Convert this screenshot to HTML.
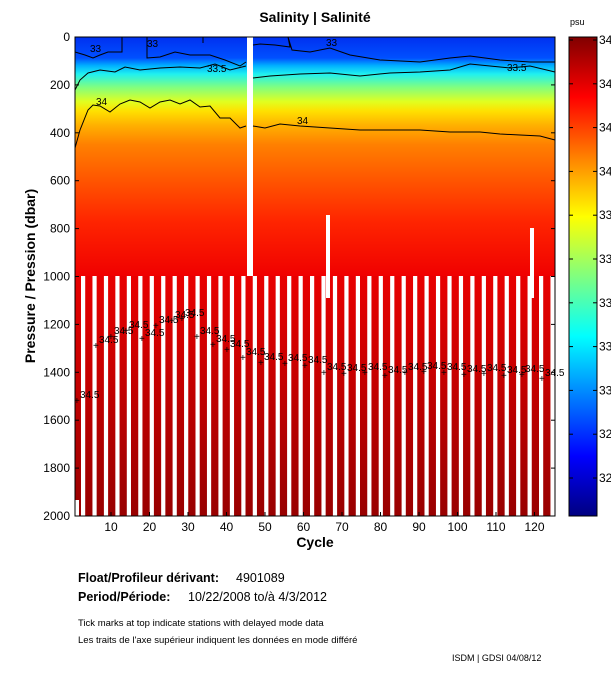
<!DOCTYPE html>
<html><head><meta charset="utf-8"><style>
body{margin:0;background:#fff;width:611px;height:675px;overflow:hidden;font-family:"Liberation Sans",Arial,sans-serif}
</style></head><body>
<svg id="s" width="611" height="675" xmlns="http://www.w3.org/2000/svg" font-family="Liberation Sans, Arial, sans-serif">
<defs>
<linearGradient id="up" x1="0" y1="37" x2="0" y2="276" gradientUnits="userSpaceOnUse">
<stop offset="0" stop-color="#0030f0"/>
<stop offset="0.088" stop-color="#0050ff"/>
<stop offset="0.12" stop-color="#00b0ff"/>
<stop offset="0.155" stop-color="#20f0f0"/>
<stop offset="0.21" stop-color="#80ff80"/>
<stop offset="0.27" stop-color="#e0ff20"/>
<stop offset="0.31" stop-color="#ffe000"/>
<stop offset="0.37" stop-color="#ffb000"/>
<stop offset="0.45" stop-color="#ff8000"/>
<stop offset="0.6" stop-color="#ff5500"/>
<stop offset="0.77" stop-color="#ff2500"/>
<stop offset="1" stop-color="#f00000"/>
</linearGradient>
<linearGradient id="lo" x1="0" y1="276" x2="0" y2="516" gradientUnits="userSpaceOnUse">
<stop offset="0" stop-color="#e80000"/>
<stop offset="0.5" stop-color="#c00000"/>
<stop offset="1" stop-color="#980000"/>
</linearGradient>
<linearGradient id="cb" x1="0" y1="37" x2="0" y2="516" gradientUnits="userSpaceOnUse">
<stop offset="0" stop-color="#800000"/>
<stop offset="0.125" stop-color="#ff0000"/>
<stop offset="0.375" stop-color="#ffff00"/>
<stop offset="0.625" stop-color="#00ffff"/>
<stop offset="0.875" stop-color="#0000ff"/>
<stop offset="1" stop-color="#000080"/>
</linearGradient>
</defs>
<text x="315" y="22" text-anchor="middle" font-size="14" font-weight="bold">Salinity | Salinité</text>
<g id="plot">
<rect x="75" y="37" width="480" height="239" fill="url(#up)"/>
<rect x="75" y="276" width="480" height="240" fill="url(#lo)"/>
</g>
<g id="ov"></g>
<polyline fill="none" stroke="#000" stroke-width="1" points="75,52 85,55 93,58 100,55 108,52 118,52 122,52 122,37"/>
<polyline fill="none" stroke="#000" stroke-width="1" points="147,37 147,58 160,57 175,52 190,55 210,55 225,60 240,66 246,62"/>
<polyline fill="none" stroke="#000" stroke-width="1" points="253,45 260,44 275,45 290,47 288,37 292,50 310,52 330,48 350,55 380,60 420,62 450,58 470,56 500,60 530,62 555,62"/>
<polyline fill="none" stroke="#000" stroke-width="1" points="75,90 80,80 88,73 100,70 115,72 125,67 140,70 160,68 180,67 200,68 215,64 230,70 246,66"/>
<polyline fill="none" stroke="#000" stroke-width="1" points="253,78 270,76 300,74 330,73 360,76 390,73 420,72 450,70 470,64 490,66 510,68 530,66 555,72"/>
<polyline fill="none" stroke="#000" stroke-width="1" points="75,148 80,130 88,110 93,105 100,106 110,112 120,104 130,100 140,102 150,108 160,102 170,100 180,104 190,100 200,107 210,106 220,118 230,118 240,128 246,126"/>
<polyline fill="none" stroke="#000" stroke-width="1" points="253,126 265,128 280,124 300,126 330,128 360,130 390,130 420,130 450,132 480,132 500,134 520,135 540,136 555,140"/>
<g font-size="10" fill="#000">
<text x="90" y="52">33</text><text x="147" y="47">33</text><text x="207" y="72">33.5</text><text x="326" y="46">33</text><text x="507" y="71">33.5</text>
<text x="96" y="105">34</text><text x="297" y="124">34</text>
</g>
<g id="lab" font-size="10"></g>
<rect x="75" y="37" width="480" height="479" fill="none" stroke="#000"/>
<g id="ax" font-size="12"></g>
<text x="315" y="547" text-anchor="middle" font-size="14" font-weight="bold">Cycle</text>
<text transform="translate(35,276) rotate(-90)" text-anchor="middle" font-size="14" font-weight="bold">Pressure / Pression (dbar)</text>
<text x="570" y="25" font-size="9">psu</text>
<rect x="569" y="37" width="28" height="479" fill="url(#cb)" stroke="#000"/>
<g id="cbt" font-size="12"></g>
<text x="78" y="582" font-size="12.5" font-weight="bold">Float/Profileur dérivant:</text><text x="236" y="582" font-size="12.5">4901089</text>
<text x="78" y="601" font-size="12.5" font-weight="bold">Period/Période:</text><text x="188" y="601" font-size="12.5">10/22/2008  to/à  4/3/2012</text>
<text x="78" y="626" font-size="9.5">Tick marks at top indicate stations with delayed mode data</text>
<text x="78" y="643" font-size="9.5">Les traits de l'axe supérieur indiquent les données en mode différé</text>
<text x="452" y="661" font-size="9">ISDM | GDSI  04/08/12</text>
</svg>
<script>
var ns="http://www.w3.org/2000/svg",ov=document.getElementById('ov');
function el(p,t,a,txt){var e=document.createElementNS(ns,t);for(var k in a)e.setAttribute(k,a[k]);if(txt!=null)e.textContent=txt;p.appendChild(e);return e;}
for(var x=81;x<555;x+=11.45){el(ov,'rect',{x:x,y:276,width:4.2,height:240,fill:'#fff'});}
el(ov,'rect',{x:247,y:37,width:6,height:239,fill:'#fff'});
el(ov,'rect',{x:326,y:215,width:4,height:83,fill:'#fff'});
el(ov,'rect',{x:530,y:228,width:4,height:70,fill:'#fff'});
el(ov,'rect',{x:75,y:500,width:4,height:16,fill:'#fff'});
var L=[[78,400],[97,345],[112,336],[127,330],[143,338],[157,325],[173,320],[183,318],[198,336],[214,344],[228,349],[244,357],[262,362],[286,363],[306,365],[325,372],[345,373],[366,372],[386,375],[406,372],[425,371],[445,372],[465,374],[485,373],[505,375],[523,374],[543,378]];
var lab=document.getElementById('lab');
L.forEach(function(p){el(lab,'text',{x:p[0]-4,y:p[1]+4},'+');el(lab,'text',{x:p[0]+2,y:p[1]-2},'34.5');});
var ax=document.getElementById('ax');
for(var i=0;i<=10;i++){var y=37+i*47.9;el(ax,'line',{x1:75,y1:y,x2:79,y2:y,stroke:'#000'});el(ax,'line',{x1:551,y1:y,x2:555,y2:y,stroke:'#000'});el(ax,'text',{x:70,y:y+4,'text-anchor':'end'},String(i*200));}
for(var c=10;c<=120;c+=10){var x=72.5+c*3.85;el(ax,'line',{x1:x,y1:516,x2:x,y2:512,stroke:'#000'});el(ax,'text',{x:x,y:531,'text-anchor':'middle'},String(c));}
el(ax,'line',{x1:203,y1:37,x2:203,y2:43,stroke:'#000'});
var cbt=document.getElementById('cbt'),v=['34.6','34.4','34.2','34','33.8','33.6','33.4','33.2','33','32.8','32.6'];
v.forEach(function(s,i){var y=40+i*43.8;el(cbt,'line',{x1:569,y1:y,x2:573,y2:y,stroke:'#000'});el(cbt,'line',{x1:593,y1:y,x2:597,y2:y,stroke:'#000'});el(cbt,'text',{x:599,y:y+4},s);});
</script>
</body></html>
